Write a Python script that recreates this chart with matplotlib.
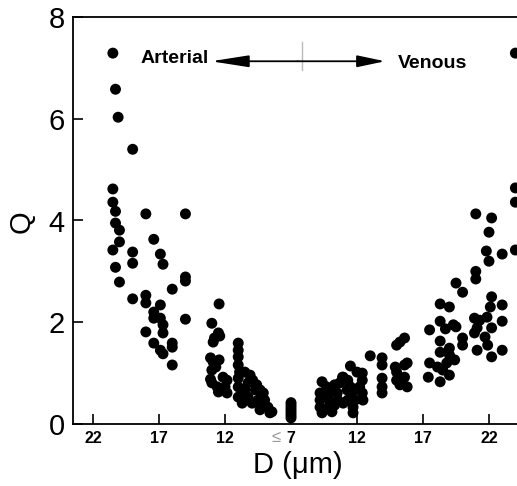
import matplotlib
matplotlib.use("Agg")
import matplotlib.pyplot as plt
import numpy as np

plt.rcParams['font.family'] = ['Liberation Sans', 'DejaVu Sans']

# Arterial side: diameter D (um) and flow Q
art_D = [20.5, 20.3, 20.1, 19.0, 20.5, 20.5, 20.3, 20.3, 20.0, 20.0, 20.5, 20.3, 20.0,
         18.0, 15.0, 17.4, 19.0, 19.0, 16.9, 16.7, 15.0, 15.0, 16.0, 19.0, 18.0, 18.0,
         16.9, 17.4, 17.4, 16.9, 16.7, 16.7, 18.0, 15.0, 17.4, 16.9, 16.7, 16.0, 16.0, 16.0,
         12.45, 13.0, 12.5, 12.8, 12.9, 12.4, 12.9, 12.45, 13.1, 12.7, 13.0, 13.1, 13.0,
         12.6, 12.15, 11.85, 12.0, 11.85, 12.5,
         11.0, 11.0, 11.0, 11.0, 10.9, 11.0, 11.0, 11.0, 10.7, 10.5, 10.1, 9.9, 9.6, 9.35,
         9.1, 9.0, 8.75, 8.45, 10.5, 10.25, 9.95, 10.25, 9.7, 9.5, 9.2, 8.6, 9.35]
art_Q = [7.29, 6.58, 6.03, 5.40, 4.62, 4.36, 4.18, 3.95, 3.81, 3.58, 3.42, 3.08, 2.79,
         4.13, 4.13, 3.63, 3.38, 3.16, 3.34, 3.14, 2.89, 2.81, 2.65, 2.46, 2.53, 2.38,
         2.34, 2.20, 2.08, 2.08, 1.95, 1.79, 1.81, 2.06, 1.59, 1.45, 1.38, 1.59, 1.51, 1.16,
         2.36, 1.98, 1.79, 1.69, 1.61, 1.73, 1.22, 1.26, 1.30, 1.12, 1.06, 0.88, 0.81,
         0.73, 0.92, 0.86, 0.73, 0.61, 0.63,
         1.59, 1.45, 1.32, 1.16, 1.02, 0.90, 0.73, 0.53, 0.41, 1.02, 0.96, 0.86, 0.77, 0.67,
         0.61, 0.47, 0.33, 0.24, 0.67, 0.53, 0.41, 0.81, 0.67, 0.47, 0.33, 0.22, 0.28]

# Capillaries (D <= 7 um)
cap_Q = [0.12, 0.17, 0.22, 0.27, 0.32, 0.37, 0.42]

# Venous side
ven_D = [9.35, 9.2, 9.2, 9.2, 9.35, 9.7, 9.95, 9.8, 9.95, 10.1, 9.8, 10.3, 10.5, 10.55,
         10.3, 10.7, 10.9, 11.5, 10.95, 11.3, 11.5, 11.25, 11.6, 11.3, 10.95, 11.7, 11.7,
         12.4, 12.4, 12.2, 12.4, 12.45, 11.85, 13.0, 12.0, 13.9, 13.9, 13.9, 13.9, 13.9,
         15.0, 15.25, 15.6, 15.0, 15.0, 15.25, 15.6, 15.6, 15.8, 15.8, 14.9,
         17.5, 17.5, 17.4, 18.1, 18.3, 18.3, 18.3, 18.5, 19.0, 19.0, 19.0, 19.4, 18.8,
         18.3, 19.0, 18.3, 19.5, 19.5, 20.0, 20.0, 20.0, 19.3, 18.7,
         21.0, 22.2, 22.0, 21.8, 22.0, 23.0, 21.0, 21.0, 22.2, 22.1, 23.0, 21.85, 23.0,
         20.9, 21.1, 22.2, 21.7, 20.9, 21.9, 21.1, 23.0, 22.2, 21.3,
         24.0, 24.0, 24.0, 24.0]
ven_Q = [0.83, 0.61, 0.47, 0.33, 0.22, 0.73, 0.67, 0.53, 0.41, 0.24, 0.31, 0.77, 0.61, 0.47,
         0.37, 0.81, 0.92, 1.14, 0.92, 0.86, 0.73, 0.67, 0.61, 0.47, 0.41, 0.33, 0.22,
         1.00, 0.86, 0.73, 0.61, 0.47, 0.47, 1.34, 1.02, 1.30, 1.16, 0.90, 0.73, 0.61,
         1.55, 1.61, 1.69, 1.02, 0.86, 0.77, 1.16, 0.92, 1.20, 0.73, 1.12,
         1.85, 1.20, 0.92, 1.12, 1.63, 1.41, 0.83, 1.06, 1.49, 1.36, 0.96, 1.26, 1.20,
         2.36, 2.30, 2.02, 1.91, 2.77, 2.59, 1.69, 1.55, 1.95, 1.87,
         4.13, 4.05, 3.77, 3.40, 3.20, 3.34, 3.00, 2.85, 2.50, 2.30, 2.34, 2.10, 2.02,
         2.08, 1.89, 1.89, 1.71, 1.79, 1.55, 1.45, 1.45, 1.32, 2.04,
         7.29, 4.64, 4.36, 3.42]

tick_pos = [-15, -10, -5, 0, 5, 10, 15]
tick_text = ['22', '17', '12', '7', '12', '17', '22']

# Folded axis: arterial diameters run leftwards from the capillary position,
# venous diameters run rightwards.
art_x = -(np.array(art_D) - 7)
ven_x = np.array(ven_D) - 7
cap_x = np.zeros(len(cap_Q))

W, H = 517, 486
fig = plt.figure(figsize=(W / 100, H / 100), dpi=100)
ax = fig.add_axes([73 / W, 62 / H, (520 - 73) / W, 407 / H])

ms = 62
for xs, ys in ((art_x, art_Q), (cap_x, cap_Q), (ven_x, ven_Q)):
    ax.scatter(xs, ys, s=ms, c='black', edgecolors='none', zorder=3, clip_on=True)

ax.set_xlim(-16.52, 17.35)
ax.set_ylim(0, 8)

ax.spines['right'].set_visible(False)
for side in ('left', 'bottom', 'top'):
    ax.spines[side].set_linewidth(1.3)

ax.set_yticks([0, 2, 4, 6, 8])
ax.set_yticklabels(['0', '2', '4', '6', '8'], fontsize=21)
ax.tick_params(axis='y', direction='in', length=7, width=1.2, pad=6)

ax.set_xticks(tick_pos)
ax.set_xticklabels(tick_text, fontsize=11.5, fontweight='bold')
ax.tick_params(axis='x', direction='in', length=7, width=1.2, pad=5)
ax.text(-1.15, -0.27, '\u2264', fontsize=12, color='#999999',
        ha='center', va='center', clip_on=False)

fig.text(22 / W, 1 - 222 / H, 'Q', fontsize=21, rotation=90, ha='center', va='center')
fig.text(298 / W, 1 - 465 / H, 'D (\u03bcm)', fontsize=21, ha='center', va='center')

# Arterial / venous direction marker
ax.plot([0.83, 0.83], [6.95, 7.50], color='#bbbbbb', lw=1.0, zorder=1)
ax.annotate('', xy=(-6.06, 7.13), xytext=(0.5, 7.13),
            arrowprops=dict(arrowstyle='-|>,head_length=2.3,head_width=0.36',
                            color='black', lw=1.3, shrinkA=0, shrinkB=0))
ax.annotate('', xy=(7.12, 7.13), xytext=(0.5, 7.13),
            arrowprops=dict(arrowstyle='-|>,head_length=1.7,head_width=0.36',
                            color='black', lw=1.3, shrinkA=0, shrinkB=0))
ax.text(-8.8, 7.19, 'Arterial', fontsize=14, fontweight='bold', ha='center', va='center')
ax.text(10.76, 7.09, 'Venous', fontsize=14, fontweight='bold', ha='center', va='center')

fig.savefig('out.png', dpi=100)
